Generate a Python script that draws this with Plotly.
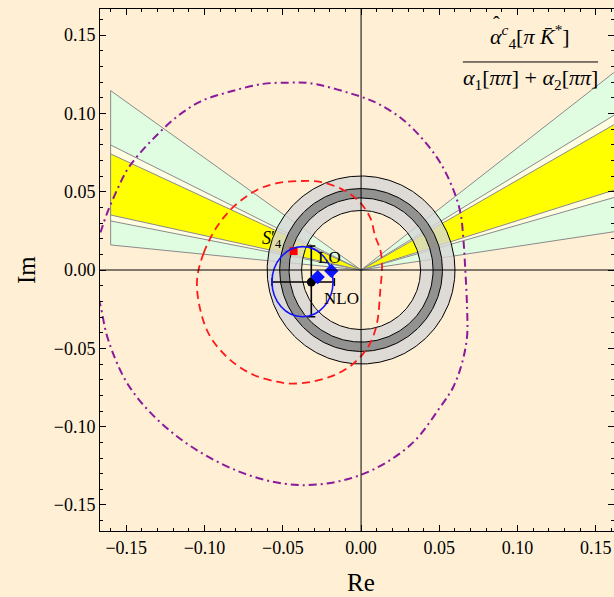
import plotly.graph_objects as go
import numpy as np

# ---------------- data ----------------
# annulus radii (gray bands around origin)
ring_light_r = [0.038, 0.060]      # light gray band (inner, outer)
ring_dark_r = [0.046, 0.052]       # dark gray band (inner, outer)

# wedges from the origin: Im values where the edges hit the cut line
wedge_right_re = 0.162
wedge_left_re = -0.160
wedge_names = ["green", "cream", "yellow"]
wedge_right_im = {"green": [0.0245, 0.1264], "cream": [0.0464, 0.0990], "yellow": [0.0511, 0.0930]}
wedge_left_im = {"green": [0.0160, 0.1145], "cream": [0.0313, 0.0798], "yellow": [0.0351, 0.0741]}
wedge_fill = {"green": "#E0FDE1", "cream": "#FFFDE2", "yellow": "#FFFF00"}

# red dashed curve
red_re = [-0.1048, -0.1006, -0.0920, -0.0814, -0.0665, -0.0537, -0.0388, -0.0260, -0.0113,
          -0.0004, 0.0059, 0.0091, 0.0123, 0.0134, 0.0123, 0.0102, 0.0059, -0.0004, -0.0089,
          -0.0196, -0.0324, -0.0452, -0.0537, -0.0686, -0.0835, -0.0963, -0.1027, -0.1048]
red_im = [-0.0064, 0.0107, 0.0277, 0.0404, 0.0511, 0.0554, 0.0568, 0.0562, 0.0511,
          0.0428, 0.0332, 0.0213, 0.0128, 0.0026, -0.0128, -0.0338, -0.0466, -0.0554, -0.0628,
          -0.0681, -0.0715, -0.0725, -0.0713, -0.0670, -0.0575, -0.0426, -0.0255, -0.0064]

# purple dash-dot curve
purple_re = [-0.1700, -0.1666, -0.1623, -0.1559, -0.1495, -0.1417, -0.1304, -0.1176, -0.1027,
             -0.0835, -0.0624, -0.0452, -0.0324, -0.0004, 0.0123, 0.0270, 0.0398, 0.0507,
             0.0590, 0.0635, 0.0654, 0.0666, 0.0677, 0.0677, 0.0645, 0.0590, 0.0507, 0.0315,
             -0.0004, -0.0388, -0.0771, -0.1187, -0.1474, -0.1615, -0.1666, -0.1700]
purple_im = [0.0130, 0.0236, 0.0362, 0.0511, 0.0639, 0.0741, 0.0862, 0.0979, 0.1075,
             0.1139, 0.1188, 0.1196, 0.1192, 0.1107, 0.1054, 0.0958, 0.0830, 0.0683,
             0.0511, 0.0364, 0.0192, 0.0000, -0.0234, -0.0426, -0.0594, -0.0745, -0.0873, -0.1117,
             -0.1309, -0.1373, -0.1290, -0.1054, -0.0754, -0.0447, -0.0223, -0.0100]

# blue ellipse (bounding box in data units)
blue_box_re = [-0.0569, -0.0179]
blue_box_im = [-0.0298, 0.0149]

# NLO point with asymmetric errors
nlo_re, nlo_im = -0.0318, -0.0077
nlo_err_re_minus, nlo_err_re_plus = 0.0251, 0.0147
nlo_err_im_minus, nlo_err_im_plus = 0.0221, 0.0230

# blue diamonds and red square
diamond_re = [-0.0277, -0.0190]
diamond_im = [-0.0045, -0.0006]
square_re, square_im = -0.0431, 0.0121

# labels
lbl_s4 = (-0.0572, 0.0192)
lbl_lo = (-0.0202, 0.0080)
lbl_nlo = (-0.0126, -0.0182)

x_ticks = [-0.15, -0.10, -0.05, 0.00, 0.05, 0.10, 0.15]
y_ticks = [-0.15, -0.10, -0.05, 0.00, 0.05, 0.10, 0.15]
x_range = [-0.1668, 0.1616]
y_range = [-0.1666, 0.1666]

BG = "#FFEFD5"
SERIF = "Liberation Serif, Times New Roman, serif"


def fmt(v):
    s = f"{abs(v):.2f}"
    return ("\u2212" + s) if v < 0 else s


def annulus(r_in, r_out, n=361):
    # keyhole polygon: outer circle one way, inner circle back
    t = np.linspace(-np.pi / 2, 1.5 * np.pi, n)
    xs = np.concatenate([r_out * np.cos(t), r_in * np.cos(t[::-1])])
    ys = np.concatenate([r_out * np.sin(t), r_in * np.sin(t[::-1])])
    return xs, ys


def circle(r, n=361):
    t = np.linspace(0, 2 * np.pi, n)
    return r * np.cos(t), r * np.sin(t)


fig = go.Figure()

# wedges
for name in wedge_names:
    for edge_re, ims in ((wedge_right_re, wedge_right_im[name]), (wedge_left_re, wedge_left_im[name])):
        fig.add_trace(go.Scatter(
            x=[0, edge_re, edge_re, 0], y=[0, ims[0], ims[1], 0],
            mode="lines", fill="toself", fillcolor=wedge_fill[name],
            line=dict(color="#8a8a8a", width=1), hoverinfo="skip", showlegend=False))

# rings
lx, ly = annulus(ring_light_r[0], ring_light_r[1])
fig.add_trace(go.Scatter(x=lx, y=ly, mode="none", fill="toself", fillcolor="#D6D6D6",
                         opacity=0.8, hoverinfo="skip", showlegend=False))
dx, dy = annulus(ring_dark_r[0], ring_dark_r[1])
fig.add_trace(go.Scatter(x=dx, y=dy, mode="none", fill="toself", fillcolor="#858585",
                         opacity=0.85, hoverinfo="skip", showlegend=False))
for r in ring_light_r + ring_dark_r:
    cx, cy = circle(r)
    fig.add_trace(go.Scatter(x=cx, y=cy, mode="lines", line=dict(color="black", width=1),
                             hoverinfo="skip", showlegend=False))

# curves
fig.add_trace(go.Scatter(x=red_re, y=red_im, mode="lines",
                         line=dict(color="#FF1A1A", width=1.8, dash="8px,5px", shape="spline"),
                         hoverinfo="skip", showlegend=False))
fig.add_trace(go.Scatter(x=purple_re, y=purple_im, mode="lines",
                         line=dict(color="#8B1A9A", width=2, dash="8px,4px,2px,4px", shape="spline"),
                         hoverinfo="skip", showlegend=False))

# NLO point with error bars
fig.add_trace(go.Scatter(
    x=[nlo_re], y=[nlo_im], mode="markers",
    marker=dict(color="black", size=9),
    error_x=dict(type="data", symmetric=False, array=[nlo_err_re_plus], arrayminus=[nlo_err_re_minus],
                 color="black", thickness=1.6, width=4),
    error_y=dict(type="data", symmetric=False, array=[nlo_err_im_plus], arrayminus=[nlo_err_im_minus],
                 color="black", thickness=1.6, width=4),
    hoverinfo="skip", showlegend=False))

fig.add_trace(go.Scatter(x=diamond_re, y=diamond_im, mode="markers",
                         marker=dict(symbol="diamond", color="#0A14FF", size=11),
                         hoverinfo="skip", showlegend=False))
fig.add_trace(go.Scatter(x=[square_re], y=[square_im], mode="markers",
                         marker=dict(symbol="square", color="#FF0000", size=8),
                         hoverinfo="skip", showlegend=False))

shapes = [
    dict(type="circle", xref="x", yref="y", x0=blue_box_re[0], x1=blue_box_re[1],
         y0=blue_box_im[0], y1=blue_box_im[1], line=dict(color="#1414FF", width=1.6), layer="above"),
    dict(type="line", xref="x", yref="paper", x0=0, x1=0, y0=0, y1=1,
         line=dict(color="black", width=1), layer="above"),
    dict(type="line", xref="paper", yref="y", x0=0, x1=1, y0=0, y1=0,
         line=dict(color="black", width=1), layer="above"),
    # fraction bar of the title
    dict(type="line", xref="paper", yref="paper", x0=0.706, x1=0.969, y0=0.8985, y1=0.8985,
         line=dict(color="black", width=1)),
]

ann_font = dict(family=SERIF, size=18, color="black")
title_font = dict(family=SERIF, size=22, color="black")
annotations = [
    dict(x=lbl_s4[0], y=lbl_s4[1], xref="x", yref="y", showarrow=False,
         text="<i>S</i>′<sub>4</sub>", font=ann_font),
    dict(x=lbl_lo[0], y=lbl_lo[1], xref="x", yref="y", showarrow=False, text="LO",
         font=dict(family=SERIF, size=17, color="black")),
    dict(x=lbl_nlo[0], y=lbl_nlo[1], xref="x", yref="y", showarrow=False, text="NLO",
         font=dict(family=SERIF, size=17, color="black")),
    dict(x=0.8366, y=0.948, xref="paper", yref="paper", xanchor="center", yanchor="middle",
         showarrow=False,
         text="<i>α</i><sup><i>c</i></sup><sub>4</sub>[<i>π</i> <i>K̄</i><sup>*</sup>]",
         font=title_font),
    # hat over alpha
    dict(x=0.7715, y=0.972, xref="paper", yref="paper", xanchor="center", yanchor="middle",
         showarrow=False, text="ˆ", font=dict(family=SERIF, size=20, color="black")),
    dict(x=0.8366, y=0.866, xref="paper", yref="paper", xanchor="center", yanchor="middle",
         showarrow=False,
         text="<i>α</i><sub>1</sub>[<i>ππ</i>] + <i>α</i><sub>2</sub>[<i>ππ</i>]",
         font=title_font),
    dict(x=0, y=0, xref="x", yref="paper", yanchor="top", yshift=-36, showarrow=False,
         text="Re", font=dict(family=SERIF, size=25, color="black")),
    dict(x=0, y=0, xref="paper", yref="y", xanchor="center", xshift=-74, showarrow=False,
         text="Im", textangle=-90, font=dict(family=SERIF, size=25, color="black")),
]

axis_common = dict(
    showgrid=False, zeroline=False, showline=True, linecolor="black", linewidth=1,
    ticks="inside", ticklen=6, tickcolor="black", tickwidth=1,
    tickfont=dict(family=SERIF, size=18, color="black"),
    minor=dict(ticks="inside", ticklen=3, dtick=0.01, tickcolor="black", tickwidth=1),
)

fig.update_layout(
    width=614, height=597,
    margin=dict(l=100, r=0, t=9, b=66),
    paper_bgcolor=BG, plot_bgcolor=BG,
    shapes=shapes, annotations=annotations,
    xaxis=dict(range=x_range, tickvals=x_ticks, ticktext=[fmt(v) for v in x_ticks],
               mirror="allticks", **axis_common),
    yaxis=dict(range=y_range, tickvals=y_ticks, ticktext=[fmt(v) for v in y_ticks],
               mirror="allticks", **axis_common),
    showlegend=False,
)

fig.write_html("out.html")
